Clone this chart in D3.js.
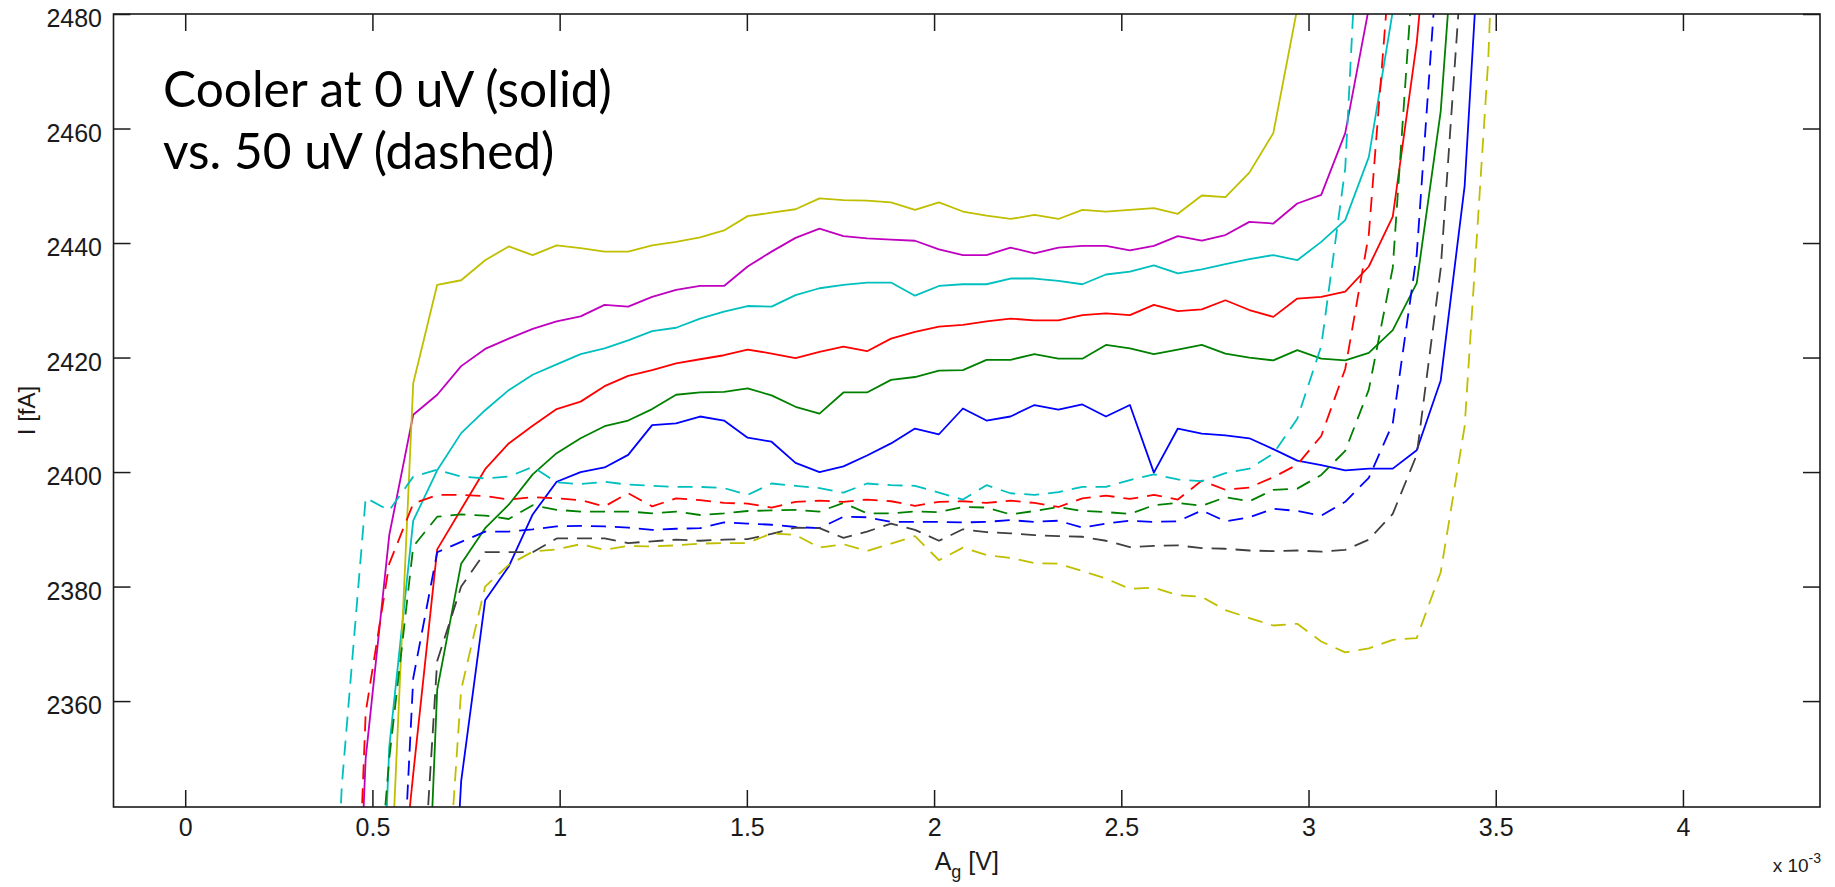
<!DOCTYPE html>
<html>
<head>
<meta charset="utf-8">
<script src="https://cdn.jsdelivr.net/npm/d3@7/dist/d3.min.js"></script>
<style>
  html, body { margin: 0; padding: 0; background: #fff; }
  svg { display: block; }
</style>
</head>
<body>
<div id="chart"></div>
<script>
// gate sweep, x 10^-3 V
var gateV = [0.354,0.418,0.482,0.545,0.609,0.673,0.737,0.801,0.864,0.928,0.992,1.056,1.120,1.183,1.247,1.311,1.375,1.439,1.502,1.566,1.630,1.694,1.758,1.821,1.885,1.949,2.013,2.077,2.140,2.204,2.268,2.332,2.396,2.459,2.523,2.587,2.651,2.715,2.778,2.842,2.906,2.970,3.034,3.098,3.161,3.225,3.289,3.353,3.417,3.480,3.544,3.608];

// cooler at 0 uV (solid)
var solidYellow = [null,null,null,2322,2415.5,2432.7,2433.5,2437,2439.4,2437.9,2439.6,2439.1,2438.5,2438.5,2439.6,2440.2,2441,2442.2,2444.7,2445.3,2445.9,2447.8,2447.5,2447.4,2447.1,2445.8,2447.1,2445.5,2444.8,2444.2,2444.9,2444.2,2445.8,2445.5,2445.8,2446.1,2445.1,2448.3,2448,2452.3,2459.2,2481,2530,null,null,null,null,null,null,null,null,null];
var solidMagenta = [null,2250,2350,2389,2410,2413.5,2418.5,2421.5,2423.3,2425,2426.3,2427.2,2429.2,2428.9,2430.6,2431.8,2432.5,2432.5,2435.9,2438.5,2440.9,2442.5,2441.2,2440.8,2440.6,2440.4,2438.9,2437.9,2437.9,2439.2,2438.2,2439.2,2439.5,2439.5,2438.7,2439.5,2441.2,2440.4,2441.4,2443.7,2443.4,2446.9,2448.4,2459.2,2481,2520,null,null,null,null,null,null];
var solidCyan = [null,null,2250,2352,2391.5,2400.3,2406.8,2410.8,2414.3,2417,2418.8,2420.6,2421.6,2423,2424.6,2425.2,2426.8,2428,2429,2428.9,2430.9,2432.1,2432.7,2433.1,2433.1,2430.8,2432.5,2432.8,2432.8,2433.8,2433.8,2433.4,2432.8,2434.5,2435,2436.1,2434.7,2435.4,2436.3,2437.2,2437.9,2437,2440.2,2444,2455,2480.5,2530,null,null,null,null,null];
var solidRed = [null,null,null,2306,2347.3,2386.5,2393.5,2400.5,2405,2408.1,2411,2412.3,2415,2416.8,2417.8,2419,2419.7,2420.4,2421.4,2420.7,2419.9,2421,2421.9,2421.1,2423.3,2424.5,2425.4,2425.7,2426.3,2426.8,2426.5,2426.5,2427.4,2427.7,2427.4,2429.2,2428.1,2428.4,2430,2428.3,2427.1,2430.3,2430.6,2431.5,2435.9,2444.6,2475,2520,null,null,null,null];
var solidGreen = [null,null,null,null,2260,2362,2384,2390.2,2394.3,2399.6,2403.3,2405.9,2408,2409,2411,2413.5,2413.9,2414,2414.6,2413.4,2411.4,2410.2,2413.9,2413.9,2416.1,2416.6,2417.7,2417.8,2419.6,2419.6,2420.6,2419.8,2419.8,2422.2,2421.6,2420.6,2421.4,2422.2,2420.7,2420,2419.5,2421.3,2419.8,2419.5,2420.8,2424.8,2433,2463,2520,null,null,null];
var solidBlue = [null,null,null,null,null,2270,2346,2377.6,2383.5,2392.6,2398.3,2400,2400.8,2403,2408.2,2408.5,2409.7,2409,2406,2405.3,2401.6,2400,2401,2402.9,2405,2407.6,2406.6,2411.1,2409,2409.7,2411.7,2410.9,2411.8,2409.7,2411.7,2399.9,2407.6,2406.7,2406.4,2405.9,2404,2402,2401.2,2400.3,2400.6,2400.6,2403.8,2416,2450,2520,null,null];

// cooler at 50 uV (dashed)
var dashCyan = [2250,2345,2395.5,2393.3,2399.2,2400.4,2399.2,2398.9,2399.2,2400.9,2398.2,2397.9,2398.3,2397.8,2397.6,2397.4,2397.4,2397.2,2396,2398,2397.6,2397.2,2396.4,2398,2397.7,2397.6,2396.4,2395.2,2397.7,2396.3,2396,2396.5,2397.4,2397.4,2398.6,2399.6,2398.7,2398.4,2399.8,2400.6,2403.2,2409.3,2422,2453,2534,null,null,null,null,null,null,null];
var dashRed = [null,2250,2358,2384,2394.5,2396,2396,2395.8,2395.2,2395.6,2395.4,2395.1,2394,2396.3,2394,2395.4,2395.1,2394.6,2394.5,2393.8,2394.8,2395,2394.8,2395.2,2394.9,2394.1,2394.8,2394.9,2394.6,2395,2394.6,2393.9,2395.4,2395.9,2395.3,2396,2395.2,2398.5,2396.9,2397.3,2399.1,2401.3,2406.3,2418,2441.5,2495,null,null,null,null,null,null];
var dashGreen = [null,null,2300,2350,2387,2392.2,2392.6,2392.4,2391.8,2394.2,2393.4,2393.1,2393.1,2393.1,2392.8,2393.1,2392.5,2392.8,2393.2,2393.3,2393.4,2393.1,2394.6,2392.8,2392.8,2393.1,2393,2393.9,2393.8,2392.6,2393.2,2393.9,2393.2,2393,2392.7,2394.2,2394.6,2394.1,2395.6,2394.9,2396.9,2397.1,2399.5,2403.7,2414.4,2435.7,2497,null,null,null,null,null];
var dashBlue = [null,null,null,2280,2364,2386,2387.8,2389.6,2389.6,2390,2390.5,2390.6,2390.5,2390.3,2389.9,2390.1,2390.2,2391.2,2391,2390.8,2390.4,2390.2,2392.2,2392.1,2391.3,2391.3,2391.3,2391.2,2391.3,2391.6,2391.3,2391.5,2390.3,2391,2391.5,2391.3,2391.4,2393.3,2391.4,2392.1,2393.6,2393.2,2392.4,2394.8,2399,2408.5,2438,2498,null,null,null,null];
var dashGray = [null,null,null,null,2300,2367,2380,2386,2386,2386,2388.4,2388.4,2388.4,2387.6,2387.9,2388.2,2388,2388.2,2388.3,2389.2,2390.3,2390.2,2388.5,2389.6,2391,2389.9,2388,2390,2389.5,2389.3,2389,2388.8,2388.7,2388,2386.9,2387.1,2387.2,2386.7,2386.6,2386.3,2386.2,2386.3,2386.1,2386.4,2388.2,2392.7,2403,2435.5,2496,null,null,null];
var dashYellow = [null,null,null,null,null,2300,2362,2380,2383.8,2386.1,2386.5,2387.4,2386.4,2387.1,2387,2387.2,2387.5,2387.6,2387.6,2389.3,2389,2386.8,2387.4,2386.2,2387.5,2388.8,2384.6,2386.8,2385.5,2385,2384.1,2384,2382.7,2381.4,2379.6,2379.8,2378.5,2378.2,2375.9,2374.5,2373.2,2373.5,2370.4,2368.5,2369.2,2370.7,2371,2382.5,2408,2472,2580,null];

var xTicks = [0, 0.5, 1, 1.5, 2, 2.5, 3, 3.5, 4];
var xTickLabels = ["0", "0.5", "1", "1.5", "2", "2.5", "3", "3.5", "4"];
var yTicks = [2360, 2380, 2400, 2420, 2440, 2460, 2480];

var series = [
    {v: solidBlue, c: "#0000ff", dash: false},
    {v: solidGreen, c: "#008000", dash: false},
    {v: solidRed, c: "#ff0000", dash: false},
    {v: solidCyan, c: "#00bfbf", dash: false},
    {v: solidMagenta, c: "#bf00bf", dash: false},
    {v: solidYellow, c: "#bfbf00", dash: false},
    {v: dashBlue, c: "#0000ff", dash: true},
    {v: dashGreen, c: "#008000", dash: true},
    {v: dashRed, c: "#ff0000", dash: true},
    {v: dashCyan, c: "#00bfbf", dash: true},
    {v: dashGray, c: "#404040", dash: true},
    {v: dashYellow, c: "#bfbf00", dash: true}
];

var W = 1835, H = 887;
var pLeft = 113.5, pTop = 14, pRight = 1820, pBottom = 807;
var tickLen = 17;
var tickFont = '"Liberation Sans", Arial, sans-serif';

var svg = d3.select("#chart").append("svg")
    .attr("width", W)
    .attr("height", H)
    .style("background", "#fff");

var x = d3.scaleLinear().domain([-0.1915, 4.366]).range([pLeft, pRight]);
var y = d3.scaleLinear().domain([2341.5, 2480]).range([pBottom, pTop]);

svg.append("clipPath").attr("id", "plotclip")
    .append("rect")
    .attr("x", pLeft).attr("y", pTop)
    .attr("width", pRight - pLeft).attr("height", pBottom - pTop);

var line = d3.line()
    .defined(function(d){ return d[1] != null; })
    .x(function(d){ return x(d[0]); })
    .y(function(d){ return y(d[1]); });

var plot = svg.append("g").attr("clip-path", "url(#plotclip)");
series.forEach(function(s){
    var pts = gateV.map(function(g, i){ return [g, s.v[i]]; });
    plot.append("path")
        .attr("d", line(pts))
        .attr("fill", "none")
        .attr("stroke", s.c)
        .attr("stroke-width", 1.8)
        .attr("stroke-linejoin", "round")
        .attr("stroke-dasharray", s.dash ? "15,9" : null);
});

// axes, ticks pointing inward on all four sides
var axB = svg.append("g").attr("transform", "translate(0," + pBottom + ")")
    .call(d3.axisBottom(x).tickValues(xTicks).tickSize(-tickLen).tickPadding(11)
        .tickFormat(function(d, i){ return xTickLabels[i]; }));
var axT = svg.append("g").attr("transform", "translate(0," + pTop + ")")
    .call(d3.axisTop(x).tickValues(xTicks).tickSize(-tickLen).tickFormat(""));
var axL = svg.append("g").attr("transform", "translate(" + pLeft + ",0)")
    .call(d3.axisLeft(y).tickValues(yTicks).tickSize(-tickLen).tickPadding(11.5)
        .tickFormat(d3.format("d")));
var axR = svg.append("g").attr("transform", "translate(" + pRight + ",0)")
    .call(d3.axisRight(y).tickValues(yTicks).tickSize(-tickLen).tickFormat(""));

[axB, axT, axL, axR].forEach(function(a){
    a.select(".domain").remove();
    a.selectAll(".tick line").attr("stroke", "#1a1a1a").attr("stroke-width", 1.5);
    a.selectAll(".tick text")
        .attr("fill", "#1a1a1a")
        .style("font-family", tickFont)
        .style("font-size", "25px");
});
axL.selectAll(".tick text").attr("dy", "0.5em");

svg.append("rect")
    .attr("x", pLeft).attr("y", pTop)
    .attr("width", pRight - pLeft).attr("height", pBottom - pTop)
    .attr("fill", "none")
    .attr("stroke", "#1a1a1a")
    .attr("stroke-width", 1.6);

// axis labels
var xl = svg.append("text")
    .attr("x", (pLeft + pRight) / 2)
    .attr("y", 870)
    .attr("text-anchor", "middle")
    .style("font-family", tickFont)
    .style("font-size", "25px")
    .attr("fill", "#1a1a1a");
xl.append("tspan").text("A");
xl.append("tspan").attr("dy", 8).style("font-size", "18px").text("g");
xl.append("tspan").attr("dy", -8).text(" [V]");

svg.append("text")
    .attr("transform", "translate(35," + ((pTop + pBottom) / 2) + ") rotate(-90)")
    .attr("text-anchor", "middle")
    .style("font-family", tickFont)
    .style("font-size", "24px")
    .attr("fill", "#1a1a1a")
    .text("I [fA]");

var sc = svg.append("text")
    .attr("x", pRight + 1)
    .attr("y", 872)
    .attr("text-anchor", "end")
    .style("font-family", tickFont)
    .style("font-size", "19px")
    .attr("fill", "#1a1a1a");
sc.append("tspan").text("x 10");
sc.append("tspan").attr("dy", -9).style("font-size", "14px").text("-3");

// annotation
var note = ["Cooler at 0 uV (solid)", "vs. 50 uV (dashed)"];
var noteY = [107, 169];
var noteSize = 48;
var noteG = svg.append("g");
note.forEach(function(t, i){
    noteG.append("text")
        .attr("x", 163)
        .attr("y", noteY[i])
        .style("font-family", "Lato, 'Open Sans', sans-serif")
        .style("font-size", noteSize + "px")
        .attr("fill", "#000")
        .text(t);
});
var first = noteG.select("text").node().getComputedTextLength();
noteG.selectAll("text").style("font-size", (noteSize * 449 / first) + "px");
</script>
</body>
</html>
